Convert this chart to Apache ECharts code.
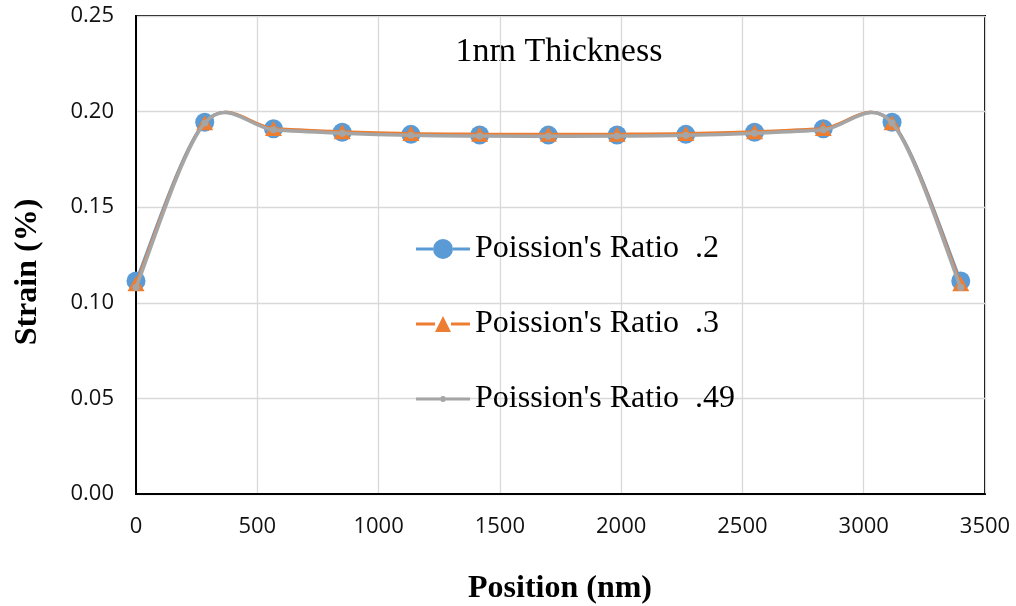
<!DOCTYPE html>
<html>
<head>
<meta charset="utf-8">
<script src="https://cdn.jsdelivr.net/npm/echarts@6/dist/echarts.min.js"></script>
<style>
html,body{margin:0;padding:0;background:#fff;}
#chart{width:1016px;height:606px;}
</style>
</head>
<body>
<div id="chart"></div>
<script>
var positions = [0, 283.3, 566.7, 850, 1133.3, 1416.7, 1700, 1983.3, 2266.7, 2550, 2833.3, 3116.7, 3400];
var strainPR02 = [0.1114, 0.1944, 0.1910, 0.1892, 0.1881, 0.1878, 0.1877, 0.1878, 0.1881, 0.1892, 0.1910, 0.1944, 0.1114];
var strainPR03 = [0.1100, 0.1942, 0.1912, 0.1895, 0.1885, 0.1882, 0.1881, 0.1882, 0.1885, 0.1895, 0.1912, 0.1942, 0.1100];
var strainPR049 = [0.1080, 0.1940, 0.1905, 0.1887, 0.1876, 0.1872, 0.1871, 0.1872, 0.1876, 0.1887, 0.1905, 0.1940, 0.1080];
var seriesNames = ["Poission's Ratio  .2", "Poission's Ratio  .3", "Poission's Ratio  .49"];
var yTicks = [0, 0.05, 0.10, 0.15, 0.20, 0.25];
var xTicks = [0, 500, 1000, 1500, 2000, 2500, 3000, 3500];
var chartTitle = '1nm Thickness';
var xTitle = 'Position (nm)';
var yTitle = 'Strain (%)';

var colors = ['#5B9BD5', '#ED7D31', '#A5A5A5'];

function pairs(xs, ys) { return xs.map(function (x, i) { return [x, ys[i]]; }); }

// Excel-style smoothed segment between data points i and i+1, positioned by the axes
function smoothRenderer(ys, color, width) {
  return function (params, api) {
    var i = params.dataIndex;
    var n = positions.length;
    if (i >= n - 1) return null;
    var p = function (k) {
      k = Math.max(0, Math.min(n - 1, k));
      return api.coord([positions[k], ys[k]]);
    };
    var p0 = p(i - 1), p1 = p(i), p2 = p(i + 1), p3 = p(i + 2);
    return {
      type: 'bezierCurve',
      shape: {
        x1: p1[0], y1: p1[1], x2: p2[0], y2: p2[1],
        cpx1: p1[0] + (p2[0] - p0[0]) / 6, cpy1: p1[1] + (p2[1] - p0[1]) / 6,
        cpx2: p2[0] - (p3[0] - p1[0]) / 6, cpy2: p2[1] - (p3[1] - p1[1]) / 6
      },
      style: {stroke: color, lineWidth: width, fill: null, lineCap: 'round'}
    };
  };
}

var chart = echarts.init(document.getElementById('chart'), null, {renderer: 'canvas'});
var tickFont = {fontFamily: 'Open Sans', fontSize: 22, color: '#111'};
var datasets = [strainPR02, strainPR03, strainPR049];
var symbols = ['circle', 'triangle', 'circle'];
var symbolSizes = [19, [17, 15], 7];
var widths = [3, 3, 3.5];

var series = [];
datasets.forEach(function (ys, s) {
  series.push({
    name: seriesNames[s], type: 'custom', z: 2 + s * 2, silent: true,
    data: pairs(positions, ys), renderItem: smoothRenderer(ys, colors[s], widths[s]),
    itemStyle: {color: colors[s]}
  });
  series.push({
    name: seriesNames[s], type: 'line', z: 3 + s * 2, data: pairs(positions, ys),
    symbol: symbols[s], symbolSize: symbolSizes[s], color: colors[s],
    lineStyle: {width: 0, opacity: 0}, itemStyle: {color: colors[s], borderWidth: 0}
  });
});

var option = {
  animation: false,
  backgroundColor: '#fff',
  grid: {left: 136, right: 31, top: 16, bottom: 112, show: true, borderColor: '#000', borderWidth: 2, containLabel: false},
  xAxis: {
    type: 'value', min: xTicks[0], max: xTicks[xTicks.length - 1], interval: 500,
    axisLine: {show: true, onZero: false, lineStyle: {color: '#000', width: 2}},
    axisTick: {show: false},
    axisLabel: Object.assign({margin: 22, formatter: function (v) { return String(v); }}, tickFont),
    splitLine: {show: true, lineStyle: {color: '#d9d9d9', width: 1.3}}
  },
  yAxis: {
    type: 'value', min: yTicks[0], max: yTicks[yTicks.length - 1], interval: 0.05,
    axisLine: {show: true, lineStyle: {color: '#000', width: 2}},
    axisTick: {show: false},
    axisLabel: Object.assign({margin: 22, formatter: function (v) { return v.toFixed(2); }}, tickFont),
    splitLine: {show: true, lineStyle: {color: '#d9d9d9', width: 1.3}}
  },
  legend: {
    orient: 'vertical', left: 416, top: 233, padding: 0,
    itemWidth: 54, itemHeight: 20, itemGap: 43, symbolKeepAspect: true,
    itemStyle: {borderWidth: 0},
    textStyle: {fontFamily: 'Liberation Serif', fontSize: 32, color: '#000'},
    data: [
      {name: seriesNames[0], icon: 'path://M0,8.5 h17 v3 h-17 Z M37,8.5 h17 v3 h-17 Z M17,10 a10,10 0 1,0 20,0 a10,10 0 1,0 -20,0 Z'},
      {name: seriesNames[1], icon: 'path://M0,8.5 h19 v3 h-19 Z M35,8.5 h19 v3 h-19 Z M27,2 L35,18 L19,18 Z'},
      {name: seriesNames[2], icon: 'path://M0,8.5 h24 v3 h-24 Z M30,8.5 h24 v3 h-24 Z M24,10 a3,3 0 1,0 6,0 a3,3 0 1,0 -6,0 Z'}
    ]
  },
  graphic: [
    {type: 'text', x: 559, y: 52, style: {text: chartTitle, font: '34px "Liberation Serif"', fill: '#000', align: 'center', verticalAlign: 'middle'}},
    {type: 'text', x: 560, y: 589, style: {text: xTitle, font: 'bold 32px "Liberation Serif"', fill: '#000', align: 'center', verticalAlign: 'middle'}},
    {type: 'text', x: 28, y: 272, rotation: Math.PI / 2, style: {text: yTitle, font: 'bold 32px "Liberation Serif"', fill: '#000', align: 'center', verticalAlign: 'middle'}}
  ],
  series: series
};
chart.setOption(option);
</script>
</body>
</html>
